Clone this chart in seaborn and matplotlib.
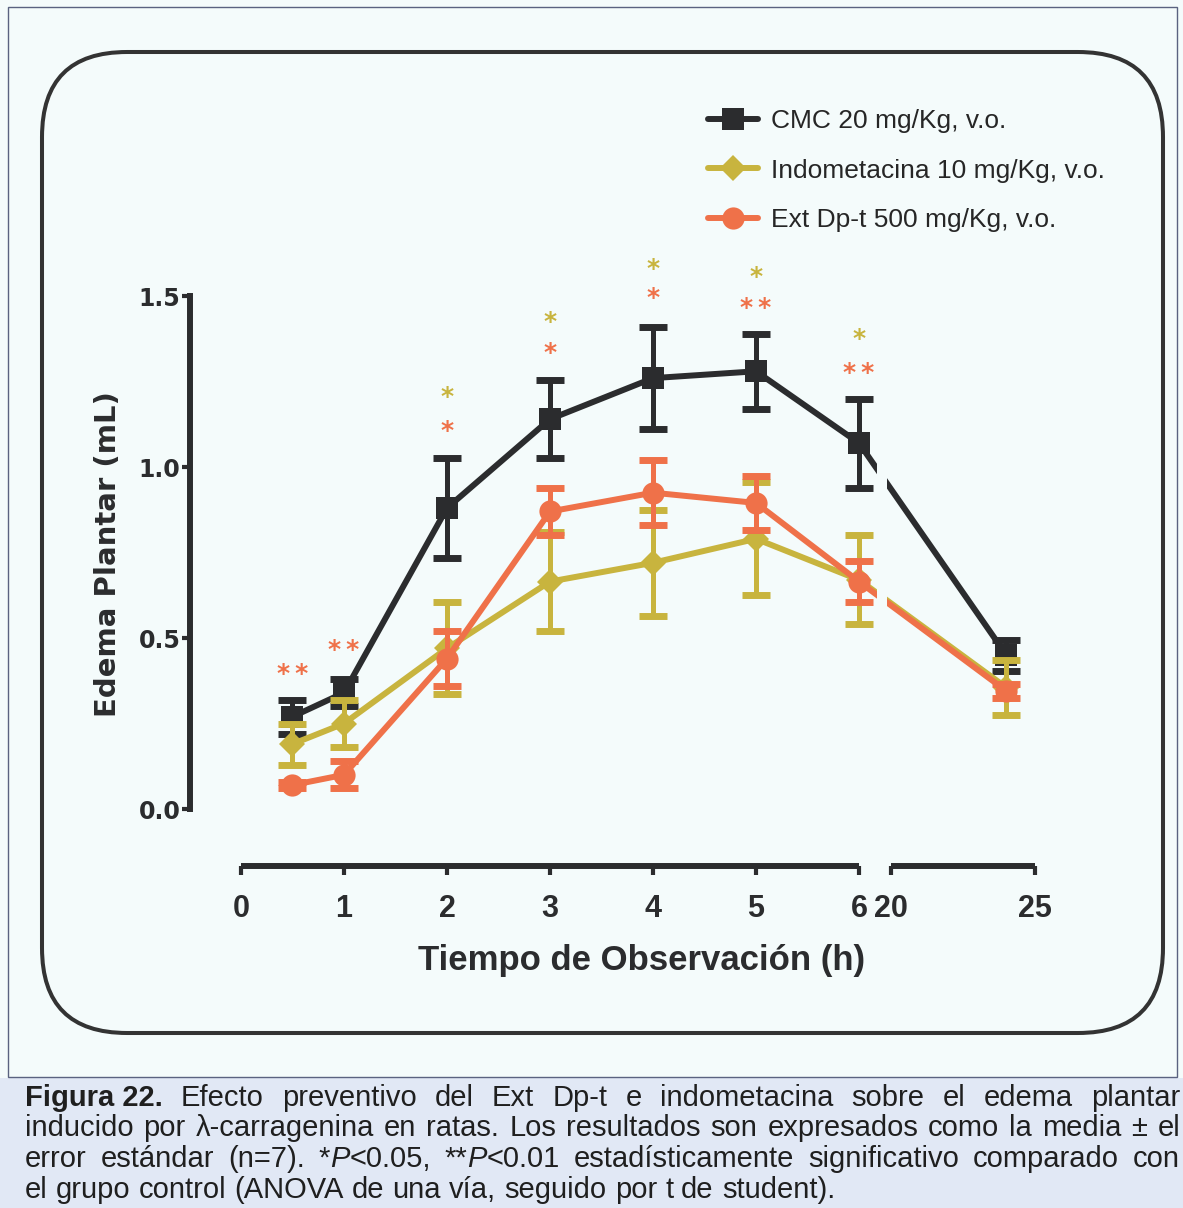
import numpy as np
import matplotlib
matplotlib.use('Agg')
import matplotlib.pyplot as plt
import seaborn as sns
from matplotlib import font_manager
from matplotlib.patches import FancyBboxPatch, Rectangle
from matplotlib.lines import Line2D

# data (mean +- SEM, mL)
hours = [0.5, 1, 2, 3, 4, 5, 6, 24]
cmc_mean = [0.27, 0.34, 0.88, 1.14, 1.26, 1.28, 1.07, 0.45]
cmc_sem = [0.05, 0.04, 0.145, 0.115, 0.15, 0.11, 0.13, 0.045]
indo_mean = [0.19, 0.25, 0.47, 0.665, 0.72, 0.79, 0.67, 0.355]
indo_sem = [0.06, 0.07, 0.135, 0.145, 0.155, 0.165, 0.13, 0.08]
ext_mean = [0.07, 0.10, 0.44, 0.87, 0.925, 0.895, 0.665, 0.345]
ext_sem = [0.01, 0.04, 0.08, 0.07, 0.095, 0.08, 0.06, 0.02]
labels = ['CMC 20 mg/Kg, v.o.', 'Indometacina 10 mg/Kg, v.o.', 'Ext Dp-t 500 mg/Kg, v.o.']

# significance marks (group 1 = indometacina, 2 = Ext Dp-t)
star_hours = [0.5, 1, 2, 2, 3, 3, 4, 4, 5, 5, 6, 6]
star_vals = [0.41, 0.48, 1.22, 1.12, 1.44, 1.35, 1.595, 1.51, 1.57, 1.48, 1.39, 1.29]
star_text = ['**', '**', '*', '*', '*', '*', '*', '*', '*', '**', '*', '**']
star_group = [2, 2, 1, 2, 1, 2, 1, 2, 1, 2, 1, 2]

xticks = [0, 1, 2, 3, 4, 5, 6, 20, 25]
yticks = [0.0, 0.5, 1.0, 1.5]

caption = [
    [[('Figura 22.', 'bold', 'normal')], 'Efecto', 'preventivo', 'del', 'Ext', 'Dp-t', 'e', 'indometacina',
     'sobre', 'el', 'edema', 'plantar'],
    ['inducido', 'por', 'λ-carragenina', 'en', 'ratas.', 'Los', 'resultados', 'son', 'expresados', 'como',
     'la', 'media', '±', 'el'],
    ['error', 'estándar', '(n=7).', [('*', 'normal', 'normal'), ('P', 'normal', 'italic'), ('<0.05,', 'normal', 'normal')],
     [('**', 'normal', 'normal'), ('P', 'normal', 'italic'), ('<0.01', 'normal', 'normal')],
     'estadísticamente', 'significativo', 'comparado', 'con'],
    ['el', 'grupo', 'control', '(ANOVA', 'de', 'una', 'vía,', 'seguido', 'por', 't', 'de', 'student).'],
]

bg = '#f4fbfb'
dark = '#2b2c2e'
colors = [dark, '#c8b43e', '#ef7149']
markers = ['s', 'D', 'o']
msizes = [16, 13, 16]

sns.set_theme(style='ticks')
names = {f.name for f in font_manager.fontManager.ttflist}
narrow = 'Liberation Sans Narrow' if 'Liberation Sans Narrow' in names else 'Liberation Sans'
plt.rcParams['font.family'] = ['DejaVu Sans']

# broken x axis: 0-6 h at full width, 20-25 h compressed
g, k = 0.311, 0.28


def fwd(h):
    h = np.asarray(h, dtype=float)
    return np.where(h <= 6, h, np.where(h < 20, 6 + (h - 6) * g / 14, 6 + g + (h - 20) * k))


def inv(p):
    p = np.asarray(p, dtype=float)
    return np.where(p <= 6, p, np.where(p < 6 + g, 6 + (p - 6) * 14 / g, 20 + (p - 6 - g) / k))


fig = plt.figure(figsize=(11.83, 12.08), dpi=100, facecolor=bg)

# scanned page furniture
fig.add_artist(Rectangle((0, 0), 11.83, 1.30, transform=fig.dpi_scale_trans, fc='#e1e8f5', ec='none', zorder=0))
fig.add_artist(Rectangle((0.08, 1.31), 11.69, 10.70, transform=fig.dpi_scale_trans, fill=False,
                         ec='#5a6280', lw=1.0, zorder=1))
fig.add_artist(FancyBboxPatch((0.42, 1.75), 11.21, 9.81, boxstyle='round,pad=0,rounding_size=0.85',
                              transform=fig.dpi_scale_trans, fill=False, ec='#333333', lw=2.9, zorder=1))

ax = fig.add_axes([0.1606, 0.2831, 0.7145, 0.5058])
ax.set_facecolor('none')

groups = [(cmc_mean, cmc_sem), (indo_mean, indo_sem), (ext_mean, ext_sem)]
for i, (mean, sem) in enumerate(groups):
    ax.errorbar(hours, mean, yerr=sem, fmt='none', ecolor=colors[i], elinewidth=3.6,
                capsize=10, capthick=5, zorder=3 + i)
    sns.lineplot(x=hours, y=mean, color=colors[i], marker=markers[i], markersize=msizes[i],
                 markeredgewidth=0, linewidth=4.3, ax=ax, zorder=3.5 + i, legend=False)

ax.set_xscale('function', functions=(fwd, inv))
ax.set_xlim(-0.495, 25)
ylo = -0.1667
ax.set_ylim(ylo, 1.62)

# hide the lines where the axis is broken
ax.axvspan(13.9, 18.2, color=bg, zorder=10, lw=0)

for h, v, s, gi in zip(star_hours, star_vals, star_text, star_group):
    ax.annotate(s.replace('**', '*\u2009*'), (h, v), xytext=(0, -3.8), textcoords='offset points',
                ha='center', va='center', color=colors[gi], fontsize=18, fontweight='bold',
                family='DejaVu Sans', zorder=11)

# axes
ax.spines[['top', 'right', 'bottom']].set_visible(False)
ax.spines['left'].set_bounds(0, 1.5)
ax.spines['left'].set_linewidth(4.3)
ax.spines['left'].set_color(dark)
for a, b in [(0, 6), (20, 25)]:
    ax.plot([a, b], [ylo, ylo], color=dark, lw=4.3, solid_capstyle='butt', clip_on=False, zorder=12)

ax.set_xticks(xticks)
ax.set_xticklabels([str(t) for t in xticks], fontfamily=narrow, fontweight='bold', fontsize=22, color=dark)
ax.set_yticks(yticks)
ax.set_yticklabels(['%.1f' % t for t in yticks], fontfamily='DejaVu Sans', fontweight='bold', fontsize=17,
                   color=dark)
ax.tick_params(axis='x', direction='out', length=6.5, width=3, color=dark, pad=14)
ax.tick_params(axis='y', direction='out', length=6, width=3, color=dark, pad=1)

ax.set_xlabel('Tiempo de Observación (h)', fontfamily=narrow, fontweight='bold', fontsize=25, color=dark)
ax.xaxis.set_label_coords(0.534, -0.128)
ax.set_ylabel('Edema Plantar (mL)', fontfamily='DejaVu Sans', fontweight='bold', fontsize=21, color=dark)
ax.yaxis.set_label_coords(-0.08, 0.51)

handles = [Line2D([], [], color=colors[i], marker=markers[i], markersize=msizes[i], markeredgewidth=0, lw=4.3)
           for i in range(3)]
fig.legend(handles, labels, loc='upper left', bbox_to_anchor=(0.5985, 0.9097), frameon=False,
           prop={'family': narrow, 'size': 19}, handlelength=1.9, handletextpad=0.5, labelspacing=0.97,
           borderpad=0, borderaxespad=0, labelcolor='#262626')

# caption, justified like the source page
cap_size = 21
cap_left, cap_right = 25, 1180
baselines = [1106, 1136.5, 1167, 1197.5]
fig.canvas.draw()
r = fig.canvas.get_renderer()
probe = fig.text(0, 0, 'x x', fontfamily=narrow, fontsize=cap_size)
w2 = probe.get_window_extent(r).width
probe.set_text('xx')
space = w2 - probe.get_window_extent(r).width
probe.remove()
for li, words in enumerate(caption):
    y = (1208 - baselines[li]) / fig.dpi
    placed = []
    for w in words:
        pieces = [(w, 'normal', 'normal')] if isinstance(w, str) else w
        objs = []
        for txt, wt, st in pieces:
            t = fig.text(0, y, txt, transform=fig.dpi_scale_trans, fontfamily=narrow, fontsize=cap_size,
                         fontweight=wt, fontstyle=st, color='#1f1f1f', va='baseline', ha='left')
            objs.append((t, t.get_window_extent(r).width))
        placed.append(objs)
    widths = [sum(wd for _, wd in objs) for objs in placed]
    if li < len(caption) - 1:
        gap = (cap_right - cap_left - sum(widths)) / (len(widths) - 1)
    else:
        gap = space
    x = cap_left
    for objs, wsum in zip(placed, widths):
        xx = x
        for t, wd in objs:
            t.set_x(xx / fig.dpi)
            xx += wd
        x += wsum + gap

fig.savefig('out.png', dpi=100, facecolor=bg)
